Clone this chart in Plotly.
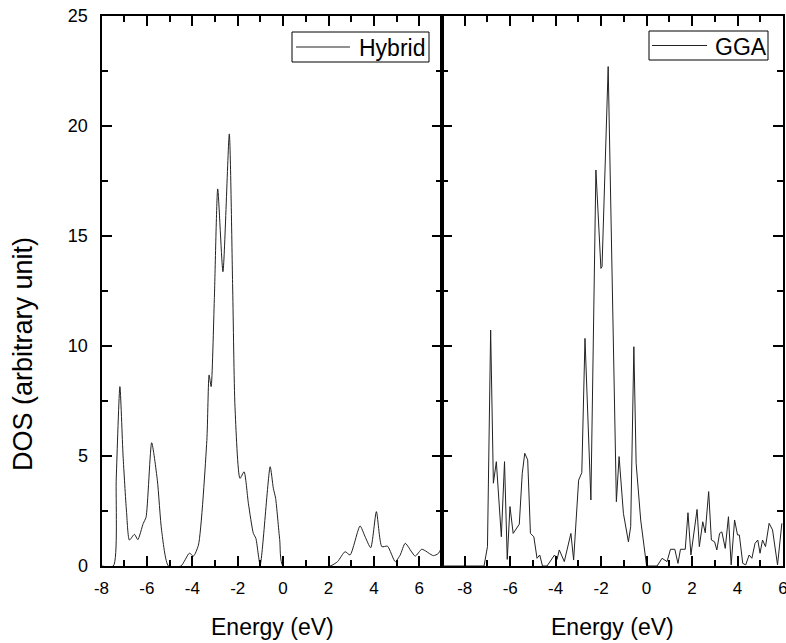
import plotly.graph_objects as go

# ---- data ----
hybrid_energy = [-8.0, -7.48, -7.35, -7.19, -7.05, -6.9, -6.77, -6.55, -6.4, -6.16, -6.04,
                 -5.79, -5.54, -5.35, -5.05, -4.5, -4.13, -3.95, -3.73, -3.36, -3.26, -3.17,
                 -3.03, -2.88, -2.65, -2.37, -2.22, -2.12, -1.9, -1.72, -1.53, -1.31, -1.2,
                 -1.01, -0.57, -0.43, -0.33, -0.15, 0.0, 2.07, 2.4, 2.73, 2.95, 3.39, 3.6,
                 3.86, 4.11, 4.35, 4.6, 4.94, 5.16, 5.38, 5.82, 6.11, 6.62, 6.84, 7.0]
hybrid_dos = [0.0, 0.0, 4.0, 8.15, 5.0, 2.5, 1.18, 1.44, 1.2, 1.94, 2.2,
              5.6, 3.9, 1.6, 0.0, 0.0, 0.58, 0.45, 0.95, 5.7, 8.68, 8.15,
              12.1, 17.13, 13.37, 19.63, 12.54, 7.24, 3.98, 4.28, 2.85, 1.48, 1.26,
              0.05, 4.51, 3.53, 3.08, 1.2, 0.0, 0.0, 0.2, 0.65, 0.5, 1.82, 1.36,
              0.83, 2.47, 0.88, 0.9, 0.2, 0.5, 1.03, 0.45, 0.76, 0.47, 0.57, 0.88]

gga_energy = [-9.0, -7.15, -7.0, -6.86, -6.74, -6.61, -6.39, -6.25, -6.13, -6.01, -5.87,
              -5.66, -5.6, -5.47, -5.36, -5.23, -5.11, -4.96, -4.82, -4.7, -4.58, -4.38,
              -4.16, -4.05, -3.94, -3.84, -3.62, -3.33, -3.21, -2.99, -2.85, -2.71, -2.45,
              -2.23, -2.01, -1.96, -1.69, -1.33, -1.21, -1.02, -0.8, -0.7, -0.56, -0.46,
              -0.26, 0.0, 0.46, 0.68, 0.9, 1.05, 1.24, 1.38, 1.49, 1.7, 1.82, 1.95,
              2.22, 2.32, 2.47, 2.58, 2.73, 2.85, 2.99, 3.09, 3.21, 3.31, 3.46, 3.6,
              3.72, 3.87, 4.0, 4.08, 4.23, 4.36, 4.51, 4.63, 4.77, 4.89, 4.99, 5.1,
              5.23, 5.39, 5.54, 5.76, 5.95]
gga_dos = [0.0, 0.0, 0.88, 10.72, 3.76, 4.74, 1.33, 4.74, 0.3, 2.7, 1.48,
           1.86, 1.9, 4.21, 5.12, 4.82, 1.48, 1.33, 0.35, 0.5, 0.0, 0.0,
           0.3, 0.5, 0.3, 0.73, 0.2, 1.48, 0.27, 3.9, 4.24, 10.34, 3.0,
           17.99, 13.52, 13.6, 22.69, 2.92, 4.97, 2.39, 1.1, 1.79, 9.96, 4.67,
           2.09, 0.0, 0.0, 0.35, 0.2, 0.76, 0.76, 0.12, 0.76, 0.76, 2.42, 0.5,
           2.57, 0.88, 2.01, 1.51, 3.38, 1.18, 1.1, 0.73, 1.48, 1.55, 0.8, 2.24,
           0.05, 2.09, 1.41, 1.41, 0.12, 0.05, 0.5, 0.35, 1.03, 1.18, 0.58, 1.18,
           0.88, 1.94, 1.64, 0.05, 1.94]

series_names = ["Hybrid", "GGA"]
x_ticks = [-8, -6, -4, -2, 0, 2, 4, 6]
x_tick_labels = ["-8", "-6", "-4", "-2", "0", "2", "4", "6"]
y_ticks = [0, 5, 10, 15, 20, 25]
x_title = "Energy (eV)"
y_title = "DOS (arbitrary unit)"

W, H = 786, 643
left_px, mid_px, right_px = 101.5, 442.0, 783.0
top_px, bottom_px = 15.7, 566.0

def px_x(p):
    return p / W

def px_y(p):
    return 1 - p / H

FONT = "Liberation Sans, Arial, sans-serif"
LINE_COLOR = "#222222"

fig = go.Figure()
fig.add_trace(go.Scatter(x=hybrid_energy, y=hybrid_dos, mode="lines", name=series_names[0],
                         line=dict(color=LINE_COLOR, width=1, shape="spline", smoothing=0.6),
                         xaxis="x", yaxis="y", showlegend=False))
fig.add_trace(go.Scatter(x=gga_energy, y=gga_dos, mode="lines", name=series_names[1],
                         line=dict(color=LINE_COLOR, width=1),
                         xaxis="x2", yaxis="y2", showlegend=False))

axis_common = dict(showline=True, linecolor="black", linewidth=2, mirror="ticks",
                   ticks="inside", tickcolor="black", tickwidth=2, ticklen=10,
                   showgrid=False, zeroline=False, automargin=False)
xfont = dict(family=FONT, size=17, color="black")
yfont = dict(family=FONT, size=18, color="black")
minor_x = dict(dtick=1, ticklen=6, tickwidth=2, tickcolor="black", ticks="inside")
minor_y = dict(dtick=2.5, ticklen=6, tickwidth=2, tickcolor="black", ticks="inside")

# legend boxes drawn in paper pixels: (box x0, box x1, box y0, box y1, line x0, line x1, text x)
legend_boxes = [(292, 429, 32, 62, 296, 350, 357), (649, 768, 31, 60, 652, 707, 713)]
shapes = []
annotations = []
for name, (bx0, bx1, by0, by1, lx0, lx1, tx) in zip(series_names, legend_boxes):
    ym = (by0 + by1) / 2
    shapes.append(dict(type="rect", xref="paper", yref="paper",
                       x0=px_x(bx0), x1=px_x(bx1), y0=px_y(by1), y1=px_y(by0),
                       line=dict(color="black", width=1), fillcolor="white", layer="above"))
    shapes.append(dict(type="line", xref="paper", yref="paper",
                       x0=px_x(lx0), x1=px_x(lx1), y0=px_y(ym), y1=px_y(ym),
                       line=dict(color=LINE_COLOR, width=1), layer="above"))
    annotations.append(dict(text=name, x=px_x(tx), y=px_y(ym + 1), xref="paper", yref="paper",
                            showarrow=False, xanchor="left", yanchor="middle",
                            font=dict(family=FONT, size=23, color="black")))

annotations += [
    dict(text=x_title, x=px_x(272.5), y=px_y(627), xref="paper", yref="paper",
         showarrow=False, xanchor="center", yanchor="middle",
         font=dict(family=FONT, size=23, color="black")),
    dict(text=x_title, x=px_x(612), y=px_y(627), xref="paper", yref="paper",
         showarrow=False, xanchor="center", yanchor="middle",
         font=dict(family=FONT, size=23, color="black")),
    dict(text=y_title, x=px_x(23), y=px_y(354), xref="paper", yref="paper",
         showarrow=False, xanchor="center", yanchor="middle", textangle=-90,
         font=dict(family=FONT, size=27, color="black")),
]

fig.update_layout(
    width=W, height=H,
    margin=dict(l=0, r=0, t=0, b=0, autoexpand=False),
    paper_bgcolor="white", plot_bgcolor="white",
    showlegend=False,
    xaxis=dict(domain=[px_x(left_px), px_x(mid_px)], range=[-8, 7], anchor="y",
               tickvals=x_ticks, ticktext=x_tick_labels, tickfont=xfont, ticklabelstandoff=6,
               ticklabeloverflow="allow", minor=minor_x, **axis_common),
    xaxis2=dict(domain=[px_x(mid_px), px_x(right_px)], range=[-9, 6], anchor="y2",
                tickvals=x_ticks, ticktext=x_tick_labels, tickfont=xfont, ticklabelstandoff=6,
                ticklabeloverflow="allow", minor=minor_x, **axis_common),
    yaxis=dict(domain=[px_y(bottom_px), px_y(top_px)], range=[0, 25], anchor="x",
               tickvals=y_ticks, tickfont=yfont, ticklabelstandoff=8,
               minor=minor_y, **axis_common),
    yaxis2=dict(domain=[px_y(bottom_px), px_y(top_px)], range=[0, 25], anchor="x2",
                tickvals=y_ticks, showticklabels=False,
                minor=minor_y, **axis_common),
    shapes=shapes,
    annotations=annotations,
)

fig.write_html("out.html", config={"displayModeBar": False},
               post_script="document.body.style.margin='0px';document.body.style.overflow='hidden';")
